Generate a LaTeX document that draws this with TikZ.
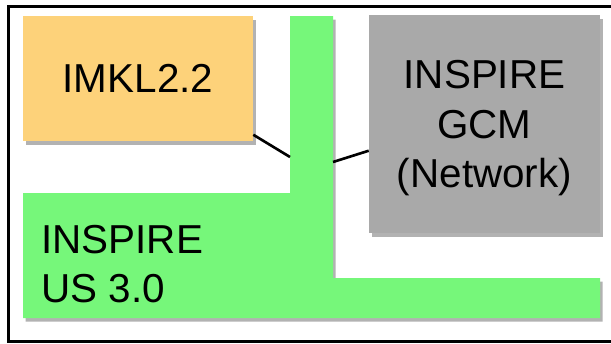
\documentclass[tikz,border=0pt]{standalone}
\usepackage{fontspec}
\setmainfont{Liberation Sans}
\usetikzlibrary{shadows}
\definecolor{imklOrange}{RGB}{253,210,122}
\definecolor{usGreen}{RGB}{118,247,122}
\definecolor{gcmGray}{RGB}{169,169,169}
\newcommand{\usoutline}{(290,327) -- (333,327) -- (333,65) -- (600,65) -- (600,25) -- (23,25) -- (23,150) -- (290,150) -- cycle}
\tikzset{
	softshadow/.style={drop shadow={shadow xshift=1.5pt, shadow yshift=-2pt, opacity=0.3, fill=black}},
	schemabox/.style={rectangle, inner sep=0pt, align=center, text depth=0pt, softshadow}
}

\begin{document}
\begin{tikzpicture}[x=0.02cm, y=0.02cm, font=\fontsize{23}{28}\selectfont, text=black]
		\useasboundingbox (0,0) rectangle (611,343);
		
		% outer frame, its right side lies past the page
		\draw[line width=0.065cm] (611,336.5) -- (8.5,336.5) -- (8.5,1.8) -- (611,1.8);
		
		\fill[usGreen, softshadow] \usoutline;
		\node[anchor=west, align=left, inner sep=0pt] (us) at (41,79) {INSPIRE\\US 3.0};
		\coordinate (usleft) at (290,186);
		\coordinate (usright) at (333,181);
		
		\node[schemabox, fill=imklOrange, minimum width=4.6cm, minimum height=2.5cm] (imkl) at (138,264.5) {IMKL2.2};
		\node[schemabox, fill=gcmGray, minimum width=4.62cm, minimum height=4.36cm] (gcm) at (484.5,219) {INSPIRE\\GCM\\(Network)};
		
		\draw[line width=1.5pt] (imkl.-26) -- (usleft);
		\draw[line width=1.5pt] (usright) -- (gcm.193);
%		\draw (imkl) -- (gcm);
	\end{tikzpicture}
\end{document}
